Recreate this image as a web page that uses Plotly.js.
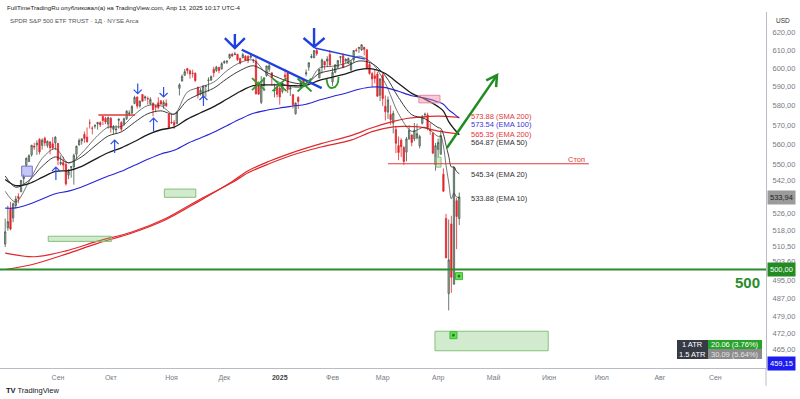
<!DOCTYPE html>
<html><head><meta charset="utf-8">
<script src="https://cdn.plot.ly/plotly-3.0.1.min.js"></script>
<style>html,body{margin:0;padding:0;background:#fff;}#chart{width:800px;height:399px;}</style>
</head><body><div id="chart"></div>
<script>
// ---------- DATA: SPY daily candles ----------
const dates = [
'2024-08-05','2024-08-06','2024-08-07','2024-08-08','2024-08-09','2024-08-12','2024-08-13','2024-08-14','2024-08-15','2024-08-16',
'2024-08-19','2024-08-20','2024-08-21','2024-08-22','2024-08-23','2024-08-26','2024-08-27','2024-08-28','2024-08-29','2024-08-30',
'2024-09-03','2024-09-04','2024-09-05','2024-09-06','2024-09-09','2024-09-10','2024-09-11','2024-09-12','2024-09-13',
'2024-09-16','2024-09-17','2024-09-18','2024-09-19','2024-09-20','2024-09-23','2024-09-24','2024-09-25','2024-09-26','2024-09-27','2024-09-30',
'2024-10-01','2024-10-02','2024-10-03','2024-10-04','2024-10-07','2024-10-08','2024-10-09','2024-10-10','2024-10-11',
'2024-10-14','2024-10-15','2024-10-16','2024-10-17','2024-10-18','2024-10-21','2024-10-22','2024-10-23','2024-10-24','2024-10-25',
'2024-10-28','2024-10-29','2024-10-30','2024-10-31',
'2024-11-01','2024-11-04','2024-11-05','2024-11-06','2024-11-07','2024-11-08','2024-11-11','2024-11-12','2024-11-13','2024-11-14','2024-11-15',
'2024-11-18','2024-11-19','2024-11-20','2024-11-21','2024-11-22','2024-11-25','2024-11-26','2024-11-27','2024-11-29',
'2024-12-02','2024-12-03','2024-12-04','2024-12-05','2024-12-06','2024-12-09','2024-12-10','2024-12-11','2024-12-12','2024-12-13',
'2024-12-16','2024-12-17','2024-12-18','2024-12-19','2024-12-20','2024-12-23','2024-12-24','2024-12-26','2024-12-27','2024-12-30','2024-12-31',
'2025-01-02','2025-01-03','2025-01-06','2025-01-07','2025-01-08','2025-01-10','2025-01-13','2025-01-14','2025-01-15','2025-01-16','2025-01-17',
'2025-01-21','2025-01-22','2025-01-23','2025-01-24','2025-01-27','2025-01-28','2025-01-29','2025-01-30','2025-01-31',
'2025-02-03','2025-02-04','2025-02-05','2025-02-06','2025-02-07','2025-02-10','2025-02-11','2025-02-12','2025-02-13','2025-02-14',
'2025-02-18','2025-02-19','2025-02-20','2025-02-21','2025-02-24','2025-02-25','2025-02-26','2025-02-27','2025-02-28',
'2025-03-03','2025-03-04','2025-03-05','2025-03-06','2025-03-07','2025-03-10','2025-03-11','2025-03-12','2025-03-13','2025-03-14',
'2025-03-17','2025-03-18','2025-03-19','2025-03-20','2025-03-21','2025-03-24','2025-03-25','2025-03-26','2025-03-27','2025-03-28','2025-03-31',
'2025-04-01','2025-04-02','2025-04-03','2025-04-04','2025-04-07','2025-04-08','2025-04-09','2025-04-10','2025-04-11'];

const openP = [
511.64,519.22,528.47,523.91,529.81,534.21,536.53,542.85,549.50,551.42,554.73,559.15,559.77,562.56,559.53,563.18,559.49,561.21,560.31,560.77,
560.47,550.20,550.89,549.94,544.65,548.36,548.70,555.01,559.71,561.74,565.10,563.74,571.01,568.25,569.34,570.48,571.14,574.38,573.39,570.42,
573.40,567.71,567.36,572.35,571.30,570.42,573.16,575.77,576.05,581.22,584.59,579.78,585.91,584.07,583.85,581.05,581.26,579.98,581.51,582.58,579.85,581.29,575.56,
571.32,571.18,570.74,589.20,593.08,596.17,599.81,598.68,597.37,597.32,589.72,586.22,584.71,590.38,593.40,593.66,599.52,598.80,600.46,599.66,
602.97,603.39,605.63,607.66,607.44,607.69,605.37,605.78,606.58,606.40,606.00,604.19,603.98,591.36,581.77,590.89,596.06,599.50,597.54,587.89,589.91,
589.39,587.53,596.27,597.42,588.70,585.88,575.77,584.36,590.33,594.17,596.96,600.67,605.92,605.80,609.81,594.81,600.62,603.72,603.96,607.50,
592.67,597.83,600.64,605.99,606.89,604.03,602.55,599.20,604.48,609.94,610.88,610.08,611.54,610.16,602.02,597.15,595.93,596.85,585.56,
596.18,579.71,576.69,575.48,570.90,567.59,559.40,562.17,558.49,556.11,562.79,564.80,562.83,563.33,559.28,570.80,575.30,575.19,567.18,565.53,549.83,
557.45,555.05,545.11,523.67,489.19,521.10,493.44,532.17,523.64];

const highP = [
523.58,529.75,531.59,531.29,534.51,535.73,542.28,544.96,553.36,555.02,559.61,560.84,562.11,563.18,563.09,563.91,562.06,561.65,563.68,564.20,
560.81,554.43,553.80,551.60,547.71,549.15,555.36,559.40,563.03,563.11,566.58,568.69,572.88,569.31,570.33,571.36,571.89,574.71,574.22,574.38,
574.06,569.90,569.80,573.36,571.96,573.78,577.71,577.58,580.33,585.27,584.90,582.83,586.12,585.39,584.85,584.50,581.71,580.06,584.46,582.71,582.91,583.32,575.63,
575.55,572.50,576.74,591.93,596.65,599.64,600.17,599.29,599.23,597.81,590.20,589.49,591.04,590.79,595.12,596.15,600.86,601.33,600.85,603.35,
604.32,604.16,607.91,608.48,609.07,607.86,605.80,608.43,607.16,607.16,607.78,605.17,606.41,593.00,595.75,595.30,601.34,602.48,597.78,591.74,590.64,
591.13,592.60,599.70,597.75,590.58,585.95,581.75,585.00,593.94,594.35,599.36,603.06,607.82,609.75,610.78,599.69,605.37,604.13,606.60,609.96,
600.29,602.30,604.37,606.45,608.13,605.50,605.86,604.55,609.94,610.99,611.49,613.23,611.68,610.30,603.03,597.89,599.58,598.02,594.72,
597.34,585.39,584.88,580.17,577.39,569.54,564.02,563.11,559.11,563.83,569.71,565.02,570.95,570.57,564.89,575.15,576.41,576.33,570.90,566.27,560.71,
562.94,567.42,547.97,525.87,523.17,524.97,548.62,533.50,536.12];

const lowP = [
510.27,517.87,518.05,521.84,528.56,530.95,536.28,540.12,548.88,551.26,553.86,557.33,554.73,554.98,557.29,559.05,558.32,555.04,557.18,557.14,
549.51,549.46,547.10,539.44,542.68,543.38,539.96,552.74,559.45,559.90,560.79,560.83,568.08,565.17,568.10,567.60,568.91,569.90,570.42,568.08,
566.00,565.27,565.49,568.10,566.63,569.53,572.55,574.49,575.91,580.73,578.54,578.96,582.16,582.58,580.60,580.38,574.42,576.57,578.08,580.52,578.43,579.29,568.44,
570.62,567.89,570.52,585.39,593.00,596.17,597.00,594.37,594.96,592.65,583.86,585.34,584.03,584.63,587.45,593.15,595.20,598.07,597.28,599.38,
602.47,602.34,604.95,606.30,607.36,604.08,602.13,605.50,604.33,602.85,605.21,602.89,585.89,585.85,580.91,587.66,595.47,598.08,590.76,584.41,584.42,
580.50,586.43,593.60,586.78,585.20,578.55,575.35,578.35,589.20,590.93,595.61,598.67,605.36,605.52,606.80,594.64,597.25,599.22,600.72,601.05,
590.49,597.28,599.87,602.63,600.05,602.74,602.43,598.51,603.20,609.07,608.38,609.56,607.02,599.47,596.49,589.56,591.86,584.65,582.44,
579.90,572.25,573.08,570.12,565.63,555.59,552.02,553.69,549.68,551.49,562.35,559.06,561.63,562.60,558.03,570.20,573.69,567.19,564.94,555.07,546.87,
553.68,554.81,536.70,505.28,481.80,489.54,493.06,509.32,520.53];

const closeP = [
517.38,522.15,518.66,530.65,532.99,533.27,542.04,543.75,553.07,554.31,559.61,558.70,560.62,556.22,562.13,560.79,561.56,558.30,558.35,563.68,
552.08,550.95,549.61,540.36,546.41,548.79,554.42,559.09,562.01,562.84,563.07,561.40,570.98,568.25,569.67,571.30,570.04,572.30,571.47,573.76,
568.62,568.86,567.82,572.98,567.80,573.17,577.14,576.13,579.58,584.32,579.78,582.30,582.35,584.59,583.63,583.32,577.99,579.24,579.04,580.83,581.77,580.01,568.64,
571.04,569.81,576.70,591.04,595.61,598.19,598.76,596.90,597.19,593.35,585.75,588.15,590.30,590.50,593.67,595.51,597.53,600.65,598.83,602.55,
603.63,603.91,607.66,606.66,607.81,604.68,602.80,607.46,604.33,604.21,606.79,604.29,586.28,586.10,591.15,594.69,601.30,601.34,595.01,588.22,586.08,
584.64,591.95,595.36,588.63,589.49,580.49,581.39,582.19,592.78,591.64,597.58,603.05,606.44,609.75,607.97,599.37,604.52,601.81,605.04,601.82,
597.77,601.78,604.22,606.32,600.77,604.85,605.31,603.36,609.73,609.70,611.49,612.93,610.38,599.94,597.21,594.24,594.54,585.05,594.18,
583.77,576.86,583.06,572.71,575.92,560.58,555.92,558.87,551.42,562.81,567.15,561.02,567.13,565.49,563.98,574.08,575.46,568.59,567.08,555.66,559.39,
560.97,564.52,536.70,505.28,504.38,496.48,548.62,524.58,533.94];

// ---------- moving averages ----------
const maFastDates = ['2024-08-05','2024-08-09','2024-08-16','2024-08-23','2024-08-30','2024-09-09','2024-09-16','2024-09-23','2024-09-30','2024-10-07',
'2024-10-14','2024-10-21','2024-10-28','2024-11-04','2024-11-11','2024-11-18','2024-11-25','2024-12-03','2024-12-10','2024-12-17',
'2024-12-24','2025-01-02','2025-01-10','2025-01-17','2025-01-27','2025-02-03','2025-02-10','2025-02-18','2025-02-25','2025-03-04',
'2025-03-11','2025-03-18','2025-03-25','2025-04-01','2025-04-02','2025-04-03','2025-04-04','2025-04-07','2025-04-08','2025-04-09','2025-04-10','2025-04-11'];
const ema10 = [536.7,531.5,541.4,552.9,557.9,550.6,555.6,563.1,568.8,569.2,575.4,580.1,579.9,575.5,587.2,589.9,592.5,598.7,603.1,604.5,
597.0,592.3,589.9,590.6,600.1,601.1,602.7,606.6,602.7,591.8,575.8,566.7,568.8,564.1,564.2,559.2,549.4,541.2,533.1,535.9,533.9,533.88];
const ema20 = [544.2,538.7,542.0,549.0,553.7,550.8,553.8,559.2,564.3,566.4,571.3,575.8,577.3,575.6,582.8,586.3,589.3,594.4,598.8,601.4,
597.8,594.6,592.2,591.8,597.2,599.0,600.9,604.0,602.6,595.9,584.3,575.3,573.2,568.6,568.2,565.2,559.5,554.2,548.7,548.7,546.4,545.34];

const maSlowDates = ['2024-08-05','2024-08-09','2024-08-16','2024-08-23','2024-08-30','2024-09-09','2024-09-16','2024-09-23','2024-09-30','2024-10-07',
'2024-10-14','2024-10-21','2024-10-28','2024-11-04','2024-11-11','2024-11-18','2024-11-25','2024-12-03','2024-12-10','2024-12-17',
'2024-12-24','2025-01-02','2025-01-10','2025-01-17','2025-01-27','2025-02-03','2025-02-10','2025-02-18','2025-02-25','2025-03-04',
'2025-03-11','2025-03-18','2025-03-25','2025-04-01','2025-04-03','2025-04-07','2025-04-09','2025-04-11'];
const ema50 = [542.5,539.5,540.5,543.5,546.5,546.9,549.0,552.5,555.8,558.3,561.5,565.0,567.5,568.8,573.0,576.3,579.5,583.5,587.5,590.6,
591.0,591.0,590.6,590.8,593.5,595.2,597.0,599.3,599.7,597.2,591.8,586.5,583.5,579.5,577.2,571.7,568.0,564.87];
const ema100 = [528.6,528.7,530.5,533.0,535.5,536.8,538.8,541.5,544.2,546.5,549.5,552.5,555.2,557.0,560.5,563.3,566.2,569.6,573.0,576.0,
577.6,578.8,579.8,580.8,583.0,584.9,586.6,588.7,589.9,589.6,587.6,585.3,584.0,582.0,580.8,577.8,575.7,573.54];

const ma200Dates = ['2024-08-05','2024-08-20','2024-09-06','2024-09-24','2024-10-11','2024-10-30','2024-11-15','2024-12-05','2024-12-13','2024-12-26',
'2025-01-08','2025-01-28','2025-02-12','2025-02-25','2025-03-07','2025-03-14','2025-03-24','2025-04-01','2025-04-11'];
const sma200 = [500.0,502.5,507.0,512.0,516.8,523.2,531.6,541.5,546.8,551.5,555.5,560.5,564.5,568.5,571.8,573.3,574.2,574.5,573.88];
const ema200 = [507.5,505.8,508.5,513.0,517.3,523.8,532.3,541.0,545.8,550.3,554.3,558.8,562.2,566.5,569.0,569.2,568.7,566.8,565.35];

// ---------- axis labels ----------
const monthTicks = ['2024-09-03','2024-10-01','2024-11-01','2024-12-02','2025-01-02','2025-02-03','2025-03-03','2025-04-01','2025-05-01','2025-06-02','2025-07-01','2025-08-01','2025-09-02'];
const monthLabels = ['Сен','Окт','Ноя','Дек','<b><span style="color:#444">2025</span></b>','Фев','Мар','Апр','Май','Июн','Июл','Авг','Сен'];
const priceTicks = [465,472,479,487,495,503.6,510.5,518,526,542,550,560,570,580,590,600,610,620];
const priceTickText = ['465,00','472,00','479,00','487,00','495,00','503,60','510,50','518,00','526,00','542,00','550,00','560,00','570,00','580,00','590,00','600,00','610,00','620,00'];
const holidays = ['2024-09-02','2024-11-28','2024-12-25','2025-01-01','2025-01-09','2025-01-20','2025-02-17','2025-04-18','2025-05-26','2025-06-19','2025-07-04','2025-09-01'];

// ---------- build ----------
const X = d => d + ' 12:00';
const lg = Math.log10;
function maTrace(ds, vals, color, width){
  return {type:'scatter', mode:'lines', x: ds.map(X), y: vals, line:{color:color, width:width, shape:'spline', smoothing:0.9}, hoverinfo:'skip', showlegend:false};
}
const traces = [
  {type:'candlestick', x: dates.map(X), open: openP, high: highP, low: lowP, close: closeP,
   increasing:{line:{color:'#44584a', width:0.8}, fillcolor:'#a9bfab'},
   decreasing:{line:{color:'#e2262d', width:0.8}, fillcolor:'#e2262d'},
   whiskerwidth:0, hoverinfo:'skip', showlegend:false},
  maTrace(ma200Dates, sma200, '#e0282b', 1.2),
  maTrace(ma200Dates, ema200, '#e0282b', 1.2),
  maTrace(maSlowDates, ema100, '#2525d9', 1.1),
  maTrace(maSlowDates, ema50, '#1a1a1a', 1.3),
  maTrace(maFastDates, ema20, '#262626', 0.9),
  maTrace(maFastDates, ema10, '#3a3a3a', 0.7)
];

// drawings
function rect(x0,x1,p0,p1,fill,lc){return {type:'rect',xref:'x',yref:'y',x0:x0,x1:x1,y0:p0,y1:p1,fillcolor:fill,line:{color:lc,width:1},layer:'above'};}
function seg(x0,p0,x1,p1,color,w){return {type:'line',xref:'x',yref:'y',x0:x0,y0:p0,x1:x1,y1:p1,line:{color:color,width:w},layer:'above'};}
function pix(x,p,path,color,w,fill){var s={type:'path',xref:'x',yref:'y',xsizemode:'pixel',ysizemode:'pixel',xanchor:x,yanchor:p,path:path,line:{color:color,width:w},layer:'above'}; if(fill) s.fillcolor=fill; return s;}
function sq(h){return 'M'+(-h)+','+(-h)+' L'+h+','+(-h)+' L'+h+','+h+' L'+(-h)+','+h+' Z';}
function paperRect(x0,x1,y0,y1,fill){return {type:'rect',xref:'paper',yref:'paper',x0:x0,x1:x1,y0:y0,y1:y1,fillcolor:fill,line:{width:0},layer:'above'};}

const GZ = 'rgba(125,195,115,0.35)', GZL = '#86c07a';
const BLUE = '#1f3fe0', GREEN = '#2e9a2e', RED = '#e53935';
const upA = 'M0,0 L0,-13 M-4,-4 L0,0 L4,-4';
const upB = 'M0,0 L0,-10 M-4,-4 L0,0 L4,-4';
const dnA = 'M0,0 L0,10 M-4,4 L0,0 L4,4';
const xMark = 'M-7,6.5 L7,-6.5 M-7,-6.5 L7,6.5';

const shapes = [
  {type:'line',xref:'paper',x0:0,x1:1,yref:'y',y0:500,y1:500,line:{color:'#2a8c2a',width:2.2},layer:'above'},
  rect('2024-08-27 19:12','2024-10-01 19:12',512.9,515.3,GZ,GZL),
  rect('2024-10-29 19:12','2024-11-14 16:48',533.8,537.8,GZ,GZL),
  rect('2025-03-31 07:12','2025-06-02 04:48',464.5,472.8,GZ,GZL),
  rect('2025-03-31 16:48','2025-04-02 14:24',548.6,553.6,GZ,GZL),
  rect('2024-08-13 18:00','2024-08-19 18:30',544.1,549.1,'rgba(130,130,235,0.45)','#7070d8'),
  rect('2025-03-21 04:48','2025-04-02 04:48',581.5,585.5,'rgba(240,140,160,0.45)','#e48aa0'),
  seg('2024-09-24 19:12',575.1,'2024-10-14 16:48',575.1,RED,1.5),
  seg('2025-03-05 12:00',550.3,'2025-06-24 14:24',550.3,RED,1.1),
  seg('2024-12-11 02:24',610.2,'2025-01-28 09:36',589.3,BLUE,2.3),
  seg('2025-01-23 19:12',611.1,'2025-02-20 19:12',605.0,BLUE,1.5),
  seg('2025-04-04 19:12',558.2,'2025-05-02 19:12',596.3,'#228b22',2.5),
  pix('2025-05-02 19:12',596.3,'M-10.8,-5.2 L0,0 L-0.9,-12','#228b22',2.5),
  pix('2024-08-30 16:48',548.6,upA,'#2f4fe6',1.2),
  pix('2024-10-02 23:00',562.2,upA,'#2f4fe6',1.2),
  pix('2024-10-23 16:48',573.5,upA,'#2f4fe6',1.2),
  pix('2024-11-19 14:24',585.1,upB,'#2f4fe6',1.2),
  pix('2024-10-15 16:48',586.4,dnA,'#2f4fe6',1.2),
  pix('2024-10-29 12:00',584.6,dnA,'#2f4fe6',1.2),
  pix('2024-12-06 12:00',611.1,'M-10,10 L0,0 L10,10 M0,0 L0,14',BLUE,2.4),
  pix('2025-01-23 12:00',611.7,'M-10.5,9 L0,0 L10.5,9 M0,0 L0,19',BLUE,2.4),
  pix('2024-12-19 10:48',591.5,'M-6.5,6 L6.5,-6 M-6.5,-6 L6.5,6',GREEN,1.8),
  pix('2025-01-02 09:36',591.2,xMark,GREEN,1.8),
  pix('2025-01-16 21:36',591.0,xMark,GREEN,1.8),
  pix('2025-02-03 12:00',592.1,'M-6,4 Q-5,-6 0,-5 Q6,-4 6,6',GREEN,1.8),
  pix('2025-04-11 09:36',497.0,sq(3.5),'#3cb83c',1,'#66e04f'),
  pix('2025-04-11 09:36',497.0,sq(1),'#2b6e2b',0.5,'#2b6e2b'),
  pix('2025-04-09 07:12',471.1,sq(3.5),'#3cb83c',1,'#66e04f'),
  pix('2025-04-09 07:12',471.1,sq(1),'#2b6e2b',0.5,'#2b6e2b'),
  paperRect(0.8838,0.9243,0.0534,0.0787,'#363a45'),
  paperRect(0.9243,0.9948,0.0534,0.0787,'#27a22b'),
  paperRect(0.8838,0.9243,0.0253,0.0534,'#363a45'),
  paperRect(0.9243,0.9948,0.0253,0.0534,'#8c8c8c'),
  {type:'line',xref:'paper',yref:'paper',x0:1,x1:1,y0:0,y1:-0.05,line:{color:'#b9bcc4',width:1}}
];

function pa(x,y,text,opt){return Object.assign({xref:'paper',yref:'paper',x:x,y:y,text:text,showarrow:false,xanchor:'left',yanchor:'middle',font:{size:7.5,color:'#333'}},opt||{});}
const annotations = [
  pa(0.006,1.014,'FullTimeTradingRu опубликовал(а) на TradingView.com, Апр 13, 2025 10:17 UTC-4',{font:{size:6.2,color:'#222'}}),
  pa(0.011,0.9775,'SPDR S&amp;P 500 ETF TRUST · 1Д · NYSE Arca',{font:{size:6.2,color:'#555'}}),
  pa(1,0.9775,'USD',{xshift:8,font:{size:6.5,color:'#333'}}),
  pa(0.6123,0.7051,'573.88 (SMA 200)',{font:{size:7.5,color:'#e0383b'}}),
  pa(0.6123,0.6826,'573.54 (EMA 100)',{font:{size:7.5,color:'#3a3ad8'}}),
  pa(0.6123,0.6573,'565.35 (EMA 200)',{font:{size:7.5,color:'#e0383b'}}),
  pa(0.6123,0.6348,'564.87 (EMA 50)',{font:{size:7.5,color:'#333'}}),
  pa(0.6123,0.5449,'545.34 (EMA 20)',{font:{size:7.5,color:'#333'}}),
  pa(0.6123,0.4775,'533.88 (EMA 10)',{font:{size:7.5,color:'#333'}}),
  {xref:'x',yref:'y',x:'2025-06-17 02:24',y:lg(552.4),text:'Стоп',showarrow:false,xanchor:'center',yanchor:'middle',font:{size:7.5,color:'#e53935'}},
  pa(0.9948,0.2388,'<b>500</b>',{xanchor:'right',font:{size:15,color:'#2a8c2a'}}),
  {xref:'paper',yref:'y',x:1,y:lg(533.94),text:'533,94',showarrow:false,xanchor:'left',xshift:1,bgcolor:'#9b9b9b',borderpad:2,font:{size:7.5,color:'#222'}},
  {xref:'paper',yref:'y',x:1,y:lg(500),text:'500,00',showarrow:false,xanchor:'left',xshift:1,bgcolor:'#228b22',borderpad:2,font:{size:7.5,color:'#fff'}},
  {xref:'paper',yref:'y',x:1,y:lg(459.15),text:'459,15',showarrow:false,xanchor:'left',xshift:1,bgcolor:'#1c1cf0',borderpad:2,font:{size:7.5,color:'#fff'}},
  pa(0.904,0.066,'1 ATR',{xanchor:'center',font:{size:7.5,color:'#fff'}}),
  pa(0.9596,0.066,'20.06 (3.76%)',{xanchor:'center',font:{size:7.5,color:'#fff'}}),
  pa(0.904,0.0393,'1.5 ATR',{xanchor:'center',font:{size:7.5,color:'#fff'}}),
  pa(0.9596,0.0393,'30.09 (5.64%)',{xanchor:'center',font:{size:7.5,color:'#e4e4e4'}}),
  pa(0,-0.0646,'<b>TV</b> TradingView',{xshift:4,font:{size:7.5,color:'#131722'}})
];

const layout = {
  width:800, height:399, margin:{l:0,r:34,t:12,b:31,pad:0},
  paper_bgcolor:'#ffffff', plot_bgcolor:'#ffffff', showlegend:false,
  font:{family:'Liberation Sans, Arial, sans-serif', size:7, color:'#555'},
  xaxis:{type:'date', range:['2024-08-01 12:43','2025-09-29 16:48'],
    rangebreaks:[{bounds:['sat','mon']},{values:holidays}],
    rangeslider:{visible:false}, showgrid:false, zeroline:false, showline:true, linecolor:'#b9bcc4', linewidth:1,
    ticks:'', tickmode:'array', tickvals:monthTicks.map(X), ticktext:monthLabels,
    tickfont:{size:7,color:'#787b86'}, ticklabelstandoff:3, fixedrange:true},
  yaxis:{type:'log', side:'right', range:[lg(457.3), lg(631.4)], showgrid:false, zeroline:false,
    showline:true, linecolor:'#b9bcc4', linewidth:1, ticks:'', tickmode:'array', tickvals:priceTicks, ticktext:priceTickText,
    tickfont:{size:7.5,color:'#787b86'}, ticklabelstandoff:4, fixedrange:true},
  shapes:shapes, annotations:annotations
};
Plotly.newPlot('chart', traces, layout, {staticPlot:true, displayModeBar:false});
</script></body></html>
